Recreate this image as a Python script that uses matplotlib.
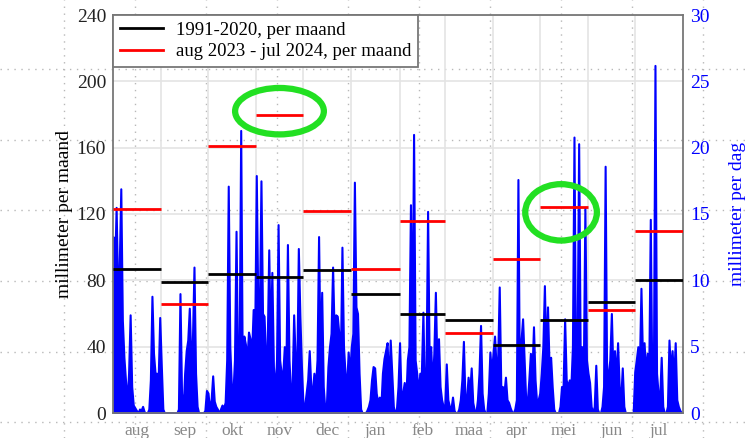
import numpy as np
import matplotlib.pyplot as plt
from matplotlib.lines import Line2D
from matplotlib.patches import Ellipse

# months from aug 2023 to jul 2024
months = ['aug', 'sep', 'okt', 'nov', 'dec', 'jan', 'feb', 'maa', 'apr', 'mei', 'jun', 'jul']
month_days = [31, 30, 31, 30, 31, 31, 29, 31, 30, 31, 30, 31]

# monthly totals (mm per month)
normal_1991_2020 = [87, 79, 84, 82, 86, 72, 60, 56, 41, 56, 67, 80]
rain_2023_2024 = [123, 66, 161, 180, 122, 87, 116, 48, 93, 124, 62, 110]

# daily totals (mm per day)
aug = [13.3, 10.5, 15.5, 9.0, 11.0, 16.9, 7.0, 4.2, 2.5, 0.8, 3.0, 7.4, 2.0, 0.6, 0.4, 0.2,
       0.0, 0.3, 0.2, 0.5, 0.1, 0.0, 0.0, 0.3, 2.5, 8.8, 4.5, 3.0, 3.0, 2.5, 7.2]
sep = [3.6, 0.3, 0, 0, 0, 0, 0, 0, 0, 0, 0, 0.3, 9.0, 1.5, 0.2, 3.0, 4.7, 5.5, 7.9, 4.0,
       5.5, 11.0, 3.0, 0.5, 0, 0, 0, 0, 0.2, 1.7]
okt = [1.5, 0.3, 1.0, 2.8, 0.9, 0.5, 0.3, 0.0, 0.3, 0.6, 0.4, 0.8, 4.0, 17.1, 5.0, 2.0,
       1.5, 4.0, 13.7, 3.0, 4.5, 21.3, 3.0, 5.8, 5.2, 4.0, 6.1, 5.6, 4.5, 7.8, 6.0]
nov = [17.9, 7.8, 7.5, 17.5, 7.5, 7.3, 4.0, 5.0, 12.3, 5.0, 10.6, 3.5, 1.5, 4.0, 14.2,
       4.0, 3.0, 2.9, 5.0, 3.0, 12.7, 4.0, 1.5, 2.0, 7.4, 4.0, 3.0, 12.4, 7.3, 3.5]
dec = [0.6, 0.5, 1.5, 2.5, 4.7, 2.0, 1.6, 3.0, 2.0, 4.0, 13.3, 4.0, 9.1, 2.0, 0.3, 0.5,
       3.5, 5.0, 6.0, 11.0, 6.0, 7.4, 7.3, 6.0, 4.0, 12.5, 5.0, 3.0, 2.0, 4.6, 3.0]
jan = [5.0, 6.0, 17.4, 8.0, 7.5, 3.0, 0.3, 0, 0, 0, 0.2, 0.5, 1.0, 2.5, 3.5, 3.4, 1.5,
       0.8, 1.2, 0.5, 3.0, 4.1, 4.7, 5.3, 2.0, 5.5, 3.0, 0.5, 0, 0.3, 2.0]
feb = [5.3, 1.0, 1.5, 2.3, 1.0, 4.0, 5.0, 15.7, 5.0, 21.0, 4.0, 3.0, 1.5, 3.0, 3.0, 7.6,
       1.0, 3.5, 15.2, 4.0, 5.0, 2.0, 4.5, 9.1, 3.5, 5.6, 2.0, 1.0, 0.5]
maa = [0.5, 3.7, 1.0, 0.5, 0.3, 1.2, 0.2, 0, 0, 0.3, 1.0, 2.5, 5.4, 1.0, 1.0, 2.7, 1.5,
       3.4, 0.8, 0.2, 0.0, 1.0, 3.0, 6.6, 1.5, 0.3, 0.0, 0.0, 1.5, 4.6, 3.0]
apr = [4.5, 5.8, 3.5, 4.0, 9.5, 2.0, 2.0, 1.5, 2.7, 1.0, 0.8, 0.4, 0.1, 0.0, 0.3, 1.0,
       17.6, 1.0, 5.5, 7.1, 4.0, 1.0, 0.8, 2.5, 4.5, 3.0, 6.5, 2.5, 0.8, 1.0]
mei = [1.5, 3.0, 5.0, 9.6, 4.0, 8.0, 3.5, 4.2, 2.0, 0.3, 0, 0, 0, 0.5, 2.0, 2.0, 7.1,
       2.5, 2.0, 2.5, 2.0, 5.0, 20.8, 3.0, 5.0, 20.3, 4.0, 5.0, 3.0, 15.5, 4.0]
jun = [3.0, 2.3, 0.5, 0, 0.5, 3.6, 0.3, 0, 0, 0.5, 2.0, 18.6, 2.0, 3.0, 4.0, 7.5, 3.0,
       4.7, 2.5, 5.3, 2.0, 1.0, 3.4, 0.5, 0, 0, 0, 0, 0, 0]
jul = [3.1, 4.0, 5.0, 3.5, 9.4, 4.0, 5.3, 3.0, 4.5, 3.0, 14.6, 2.0, 3.0, 26.2, 3.0, 1.5,
       1.0, 4.2, 0.5, 0, 0, 0.5, 5.5, 3.0, 4.7, 2.5, 5.3, 1.0, 0.5, 0.2, 0]

daily = np.array(aug + sep + okt + nov + dec + jan + feb + maa + apr + mei + jun + jul)
assert len(daily) == sum(month_days)
days = np.arange(len(daily))

plt.rcParams['font.family'] = ['Liberation Serif', 'DejaVu Serif']

W, H = 748, 438
fig = plt.figure(figsize=(W / 100, H / 100), dpi=100)
fig.patch.set_facecolor('white')

# dotted page grid behind everything
for px in [64, 135, 206, 277, 348, 419, 490, 561, 632, 703]:
    fig.add_artist(Line2D([px / W, px / W], [0, 1], transform=fig.transFigure,
                          color='#b8b8b8', lw=1.0, ls=(0, (1, 4)), zorder=-5))
for py in [69, 140, 210, 281, 352, 422]:
    fig.add_artist(Line2D([0, 1], [1 - py / H, 1 - py / H], transform=fig.transFigure,
                          color='#b8b8b8', lw=1.0, ls=(0, (1, 4)), zorder=-5))

ax_day = fig.add_axes([113 / W, 25 / H, 570 / W, 398 / H])
ax_mon = ax_day.twinx()
for a in (ax_day, ax_mon):
    a.patch.set_visible(False)

# daily rain, right axis
ax_day.fill_between(days, daily, color='#0000ff', edgecolor='#0000ff', lw=1.5, zorder=2)
ax_day.set_xlim(0, len(daily))
ax_day.set_ylim(0, 30)
ax_day.set_yticks(range(0, 31, 5))
ax_day.yaxis.tick_right()
ax_day.yaxis.set_label_position('right')
ax_day.set_ylabel('millimeter per dag', color='#0000ff', fontsize=14)
ax_day.yaxis.set_label_coords((729 - 113) / 570, 0.5)
ax_day.tick_params(axis='y', colors='#0000ff', labelsize=14, length=0, pad=5)

starts = np.concatenate([[0], np.cumsum(month_days)[:-1]])
ends = np.cumsum(month_days)
ax_day.set_xticks(starts + np.array(month_days) / 2)
ax_day.set_xticklabels(months)
ax_day.set_xticks(starts[1:], minor=True)
ax_day.tick_params(axis='x', which='both', length=0, colors='#888888', labelsize=12.5, pad=7)
ax_day.set_axisbelow(True)
ax_day.grid(axis='y', color='#e4e4e4', lw=1.2)
ax_day.grid(axis='x', which='minor', color='#e4e4e4', lw=1.2)
for s in ax_day.spines.values():
    s.set_visible(False)

# monthly totals, left axis
ax_mon.yaxis.tick_left()
ax_mon.yaxis.set_label_position('left')
ax_mon.set_ylim(0, 240)
ax_mon.set_yticks(range(0, 241, 40))
ax_mon.tick_params(axis='y', colors='#222222', labelsize=14, length=0, pad=5)
ax_mon.set_ylabel('millimeter per maand', fontsize=14)
ax_mon.yaxis.set_label_coords((73 - 113) / 570, 0.5)
ax_mon.hlines(normal_1991_2020, starts, ends, color='black', lw=2, zorder=3)
ax_mon.hlines(rain_2023_2024, starts, ends, color='red', lw=2, zorder=3)
for s in ax_mon.spines.values():
    s.set_color('#777777')
    s.set_linewidth(1.3)

# highlighted months
for cx, cy, w, h in [(106.9, 182, 57, 28), (287.7, 121, 46, 34)]:
    ax_mon.add_patch(Ellipse((cx, cy), w, h, fill=False, ec='#22e022', lw=4.5, zorder=5))

handles = [Line2D([], [], color='black', lw=2), Line2D([], [], color='red', lw=2)]
leg = ax_mon.legend(handles, ['1991-2020, per maand', 'aug 2023 - jul 2024, per maand'],
                    loc='upper left', bbox_to_anchor=(0, 1), borderaxespad=0,
                    fancybox=False, framealpha=1, edgecolor='#777777', fontsize=13.5,
                    handlelength=2.3, handletextpad=0.7, labelspacing=0.25, borderpad=0.35)
leg.get_frame().set_linewidth(1.3)
leg.set_zorder(6)

fig.savefig('out.png', dpi=100)
